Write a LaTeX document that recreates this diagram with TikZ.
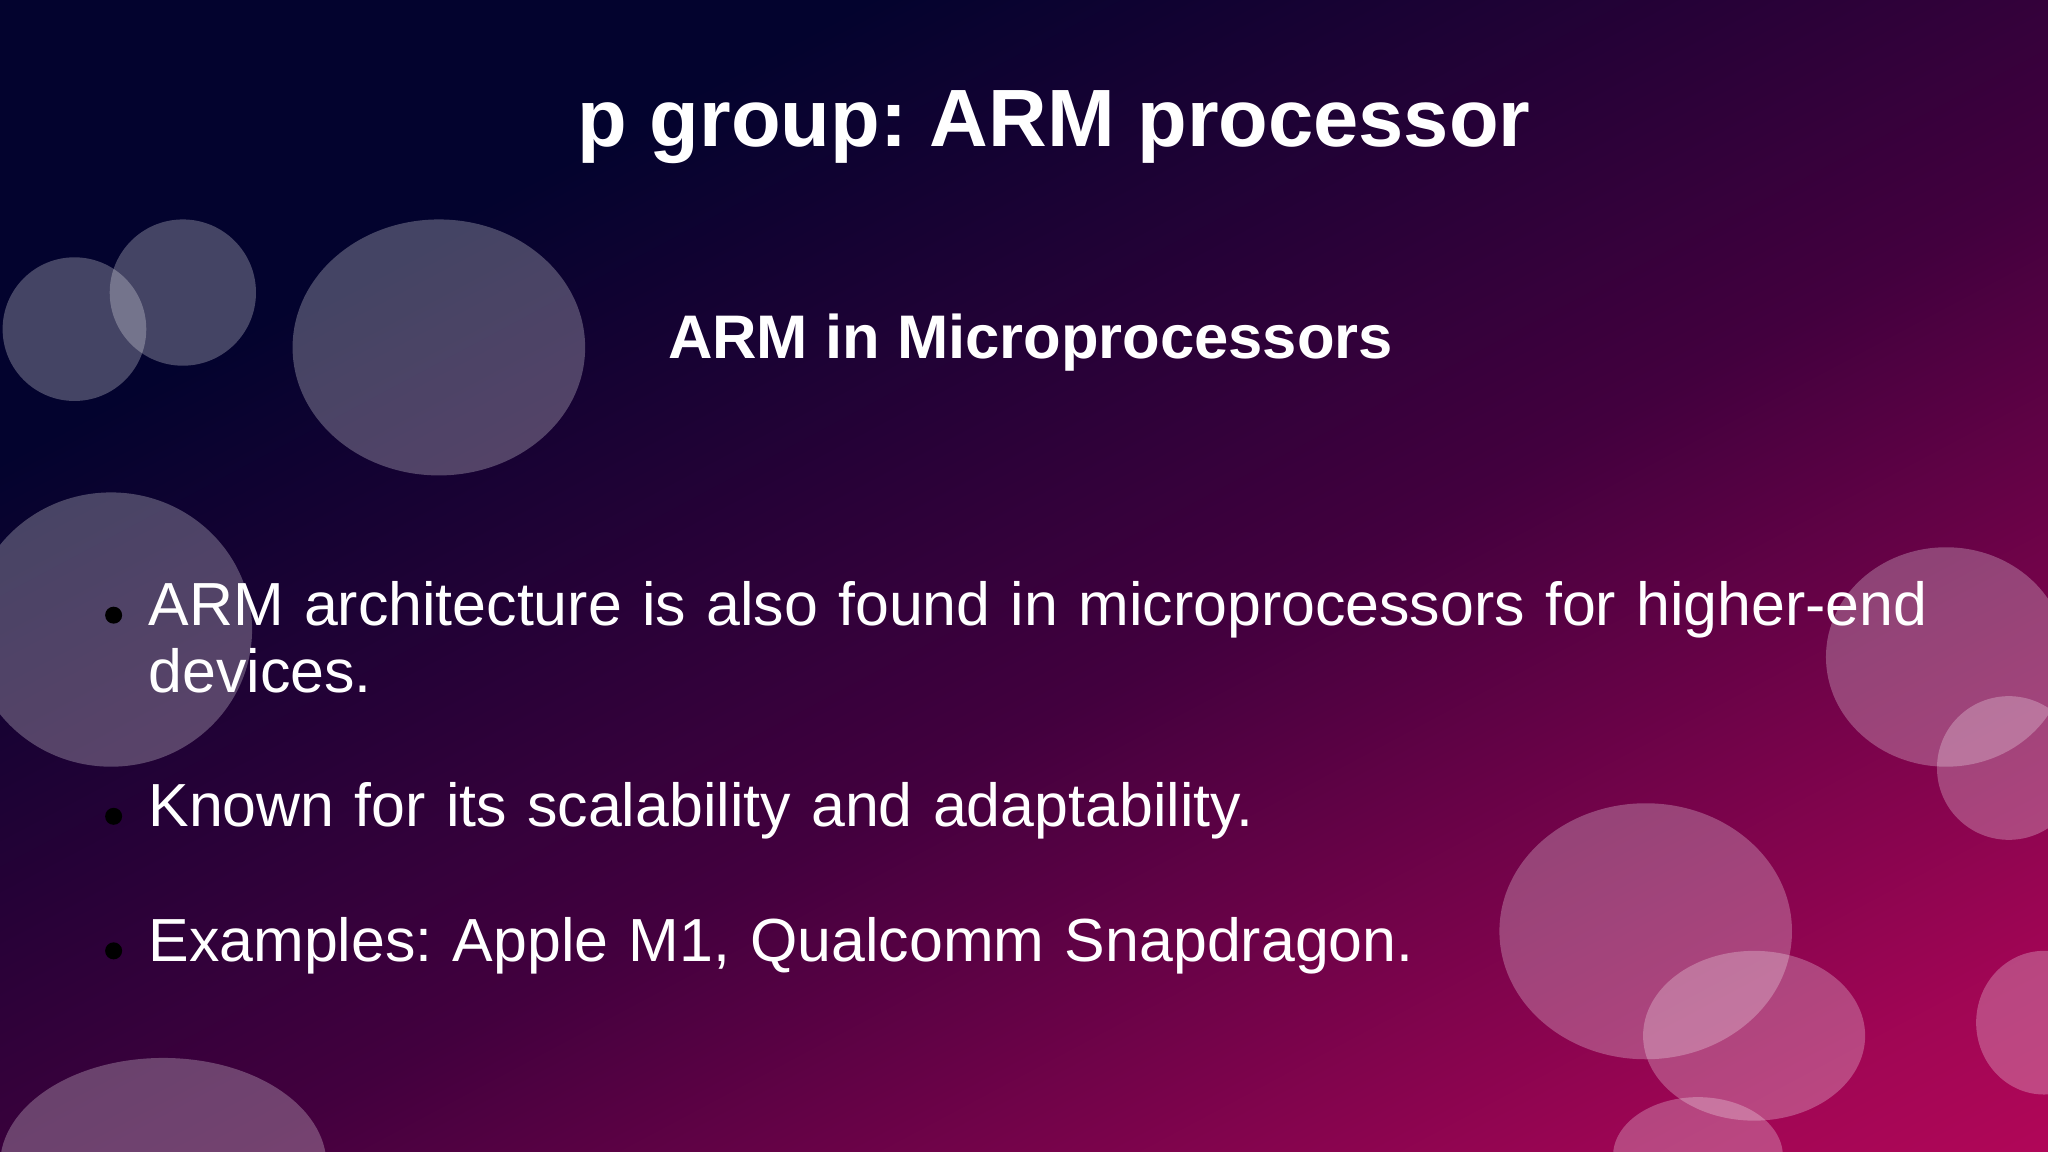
\documentclass[tikz,border=0pt]{standalone}
\usepackage{fontspec}
\setmainfont{Liberation Sans}
\frenchspacing
\definecolor{navy}{HTML}{03032E}
\definecolor{plum}{HTML}{42003E}
\definecolor{hotpink}{HTML}{EC0A66}
\pgfdeclareverticalshading{bgshade}{100bp}{color(0bp)=(hotpink); color(14bp)=(hotpink); color(32bp)=(hotpink!55!plum); color(47bp)=(plum); color(63bp)=(navy); color(100bp)=(navy)}
\begin{document}
\begin{tikzpicture}[x=0.01cm,y=-0.01cm]
\tikzset{bub/.style={fill=white,fill opacity=0.26},
 bull/.style={anchor=base west,text=white,font=\fontsize{13.25}{14.5}\selectfont,align=left,inner sep=0pt,text width=14.5cm},
 dot/.style={circle,fill=black,inner sep=0pt,minimum size=1.3mm}}
\clip (0,0) rectangle (1568,882);
\shade[shading=bgshade,shading angle=28] (-300,-300) rectangle (1868,1182);
\fill[bub] (57,252) circle (55);
\fill[bub] (140,224) circle (56);
\fill[bub] (336,266) ellipse [x radius=112,y radius=98];
\fill[bub] (85,482) ellipse [x radius=108,y radius=105];
\fill[bub] (1490,503) ellipse [x radius=92,y radius=84];
\fill[bub] (1538,588) circle (55);
\fill[bub] (1260,713) ellipse [x radius=112,y radius=98];
\fill[bub] (1343,793) ellipse [x radius=85,y radius=65];
\fill[bub] (1300,885) ellipse [x radius=65,y radius=45];
\fill[bub] (1565,783) ellipse [x radius=52,y radius=55];
\fill[bub] (125,892) ellipse [x radius=125,y radius=82];
\node[text=white,font=\fontsize{17.7}{20}\bfseries\selectfont] (title) at (807,97) {p group: ARM processor};
\node[text=white,font=\fontsize{13.4}{15}\bfseries\selectfont] (sub) at (789,262) {ARM in Microprocessors};
\node[bull] (b1) at (113,479) {ARM architecture is also found in microprocessors for higher-end\\devices.};
\node[bull] (b2) at (113,633) {Known for its scalability and adaptability.};
\node[bull] (b3) at (113,736) {Examples: Apple M1, Qualcomm Snapdragon.};
\node[dot] (d1) at (87,471) {};
\node[dot] (d2) at (87,625) {};
\node[dot] (d3) at (87,728) {};
\end{tikzpicture}
\end{document}
